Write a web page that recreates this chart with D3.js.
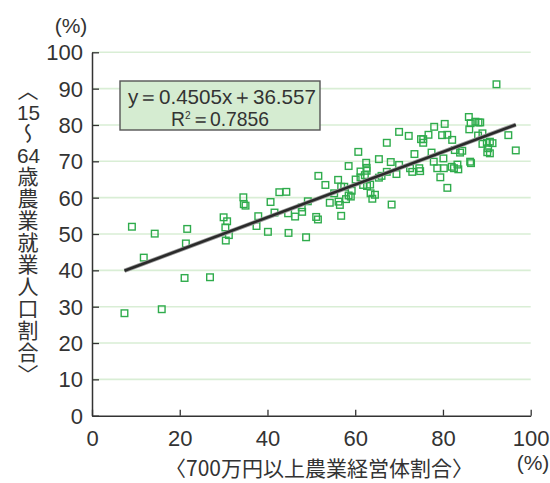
<!DOCTYPE html>
<html>
<head>
<meta charset="utf-8">
<script src="https://cdn.jsdelivr.net/npm/d3@7"></script>
<style>
  html, body { margin: 0; padding: 0; background: #fff; }
  #wrap { position: relative; width: 550px; height: 483px; }
  svg { display: block; position: absolute; left: 0; top: 0; }
  .num { font-family: "Liberation Sans Narrow", "Liberation Sans", "Noto Sans", sans-serif; fill: #333; }
  .jp { font-family: "Noto Sans CJK JP", "Noto Sans", sans-serif; fill: #333; }
  #ytitle {
    position: absolute; left: 17px; top: 80px;
    writing-mode: vertical-rl; text-orientation: mixed;
    font-family: "Noto Sans CJK JP", "Noto Sans", sans-serif;
    font-size: 21px; line-height: 22px; letter-spacing: 1px; color: #333;
    white-space: nowrap;
  }
  #ytitle .tcy { text-combine-upright: all; font-family: "Liberation Sans Narrow", "Liberation Sans", sans-serif; }
</style>
</head>
<body>
<div id="wrap">
<svg id="chart" width="550" height="483"></svg>
<div id="ytitle"></div>
</div>
<script>
// Share of farm businesses with sales of 7 million yen or more (%)
const shareLargeFarms = [
  7.4, 15.9, 9.1, 11.8, 14.3, 21.7, 21.4, 21.1, 26.9, 30.0,
  30.8, 30.4, 31.2, 30.5, 34.5, 34.6, 35.0, 37.9, 37.5, 40.1,
  40.7, 41.6, 42.7, 44.3, 44.7, 44.8, 46.3, 47.9, 47.8, 49.2,
  48.8, 51.1, 51.5, 51.6, 53.2, 54.2, 55.2, 56.1, 56.2, 56.5,
  56.8, 57.5, 56.8, 57.9, 58.5, 58.5, 59.0, 59.2, 60.7, 60.1,
  61.2, 61.2, 62.5, 62.6, 62.6, 62.2, 61.8, 62.7, 63.4, 63.5,
  63.9, 64.5, 65.4, 65.4, 66.0, 67.2, 67.2, 68.1, 68.3, 69.4,
  70.0, 70.0, 72.2, 72.5, 73.0, 73.5, 74.6, 74.8, 75.0, 75.5,
  75.5, 76.7, 77.4, 78.0, 92.2, 80.4, 79.8, 81.0, 82.1, 77.9,
  78.7, 80.1, 80.2, 79.4, 81.0, 82.0, 82.5, 83.3, 83.5, 82.7,
  83.9, 84.4, 85.9, 86.0, 86.3, 87.4, 88.1, 88.5, 88.0, 89.0,
  89.0, 90.0, 90.7, 91.3, 90.3, 90.1, 90.7, 86.2, 86.4, 94.9,
  96.6
];
// Share of farm workers aged 15-64 (%)
const shareWorkingAge = [
  28.2, 29.3, 52.0, 43.5, 50.1, 51.4, 47.4, 37.9, 38.1, 54.6,
  53.5, 51.8, 49.7, 48.2, 60.1, 58.2, 57.8, 54.9, 52.2, 50.6,
  58.8, 55.9, 61.5, 61.6, 55.7, 50.3, 54.8, 56.1, 57.3, 59.0,
  49.1, 54.7, 54.0, 66.0, 63.5, 58.6, 61.2, 64.9, 58.9, 58.0,
  63.0, 63.0, 55.0, 59.6, 60.6, 68.7, 60.3, 61.9, 72.6, 65.0,
  67.2, 65.6, 69.6, 68.2, 67.4, 66.2, 63.5, 63.2, 63.6, 61.2,
  59.7, 60.8, 70.6, 65.5, 66.0, 75.1, 67.1, 69.8, 58.1, 66.5,
  78.1, 69.0, 77.0, 68.1, 67.1, 72.0, 68.1, 67.3, 76.1, 76.1,
  75.1, 77.3, 72.4, 79.5, 91.2, 80.3, 77.2, 77.3, 75.9, 69.9,
  68.1, 70.8, 68.1, 65.6, 62.7, 68.5, 68.1, 69.1, 67.8, 73.1,
  72.4, 72.9, 82.2, 78.8, 80.5, 80.9, 80.7, 80.7, 77.1, 77.7,
  74.8, 75.1, 75.4, 75.0, 73.6, 72.5, 72.2, 69.9, 69.5, 77.2,
  73.0
];
// Fitted line and its fit statistic
const slope = 0.4505;
const intercept = 36.557;
const rSquared = 0.7856;

const xTicks = [0, 20, 40, 60, 80, 100];
const yTicks = [0, 10, 20, 30, 40, 50, 60, 70, 80, 90, 100];
const xTitle = "〈700万円以上農業経営体割合〉";
// vertical title; digit runs are set upright side by side
const yTitleParts = ["〈", "15", "〜", "64", "歳農業就業人口割合", "〉"];

const svg = d3.select("#chart");
const x = d3.scaleLinear().domain([0, 100]).range([92, 530.7]);
const y = d3.scaleLinear().domain([0, 100]).range([415.7, 52.3]);

// horizontal gridlines
svg.append("g").selectAll("line")
  .data(yTicks.filter(d => d > 0))
  .join("line")
  .attr("x1", x(0)).attr("x2", x(100))
  .attr("y1", d => y(d)).attr("y2", d => y(d))
  .attr("stroke", "#d9eed5").attr("stroke-width", 1.6);

// axes
const yAxis = svg.append("g").attr("transform", `translate(${x(0)},0)`)
  .call(d3.axisLeft(y).tickValues(yTicks).tickSizeInner(-7).tickSizeOuter(0).tickPadding(9));
const xAxis = svg.append("g").attr("transform", `translate(0,${y(0)})`)
  .call(d3.axisBottom(x).tickValues(xTicks).tickSizeInner(-6).tickSizeOuter(0).tickPadding(15));

[yAxis, xAxis].forEach(g => {
  g.select(".domain").attr("stroke", "#333").attr("stroke-width", 1.5);
  g.selectAll(".tick line").attr("stroke", "#333").attr("stroke-width", 1.3);
  g.selectAll(".tick text").attr("class", "num").attr("font-size", 22).attr("fill", "#333");
});
yAxis.selectAll(".tick text").attr("dy", "0.34em");

// scatter points
svg.append("g").selectAll("rect")
  .data(d3.zip(shareLargeFarms, shareWorkingAge))
  .join("rect")
  .attr("x", d => x(d[0]) - 3.3).attr("y", d => y(d[1]) - 3.3)
  .attr("width", 6.6).attr("height", 6.6)
  .attr("fill", "none").attr("stroke", "#2fac4c").attr("stroke-width", 1.4);

// regression line over the observed range
const xExtent = d3.extent(shareLargeFarms);
const fit = xExtent.map(v => [v, slope * v + intercept]);
const lineGen = d3.line().x(d => x(d[0])).y(d => y(d[1]));
svg.append("path").attr("d", lineGen(fit))
  .attr("stroke", "#9a9a9a").attr("stroke-width", 4.2).attr("fill", "none");
svg.append("path").attr("d", lineGen(fit))
  .attr("stroke", "#2a2a2a").attr("stroke-width", 2.6).attr("fill", "none");

// equation box
svg.append("rect").attr("x", 120).attr("y", 81).attr("width", 200).attr("height", 49)
  .attr("fill", "#d5ecd1").attr("stroke", "#555").attr("stroke-width", 1.4);
svg.append("text").attr("class", "num").attr("x", 222).attr("y", 104)
  .attr("text-anchor", "middle").attr("font-size", 21)
  .attr("textLength", 188).attr("lengthAdjust", "spacingAndGlyphs")
  .text(`y＝${slope}x＋${intercept}`);
const r2 = svg.append("text").attr("class", "num").attr("x", 220).attr("y", 126)
  .attr("text-anchor", "middle").attr("font-size", 21)
  .attr("textLength", 98).attr("lengthAdjust", "spacingAndGlyphs");
r2.append("tspan").text("R");
r2.append("tspan").attr("font-size", 11).attr("dy", -7).text("2");
r2.append("tspan").attr("dy", 7).text(`＝${rSquared}`);

// unit labels
svg.append("text").attr("class", "num").attr("x", 71).attr("y", 33)
  .attr("text-anchor", "middle").attr("font-size", 21).text("(%)");
svg.append("text").attr("class", "num").attr("x", 533).attr("y", 470)
  .attr("text-anchor", "middle").attr("font-size", 21).text("(%)");

// x axis title
svg.append("text").attr("class", "jp").attr("x", 319).attr("y", 476)
  .attr("text-anchor", "middle").attr("font-size", 21).text(xTitle);

// y axis title (vertical writing)
const yt = d3.select("#ytitle");
yTitleParts.forEach(s => {
  const sp = yt.append("span").text(s);
  if (/\d/.test(s)) sp.attr("class", "tcy");
});
</script>
</body>
</html>
